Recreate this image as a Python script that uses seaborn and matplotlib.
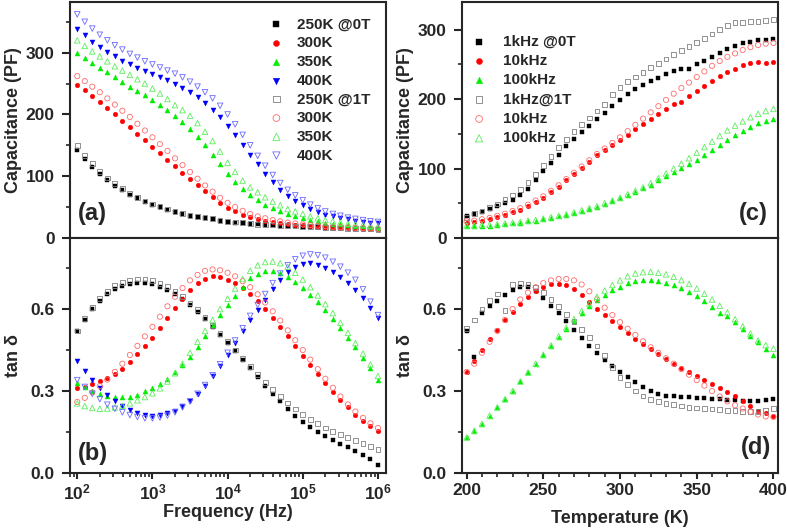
import numpy as np
import matplotlib
matplotlib.use("Agg")
import matplotlib.pyplot as plt
from matplotlib.ticker import MultipleLocator, FixedLocator, FuncFormatter, LogLocator, NullFormatter
import seaborn as sns

# ========= DATA =========
freq = 10 ** np.round(np.arange(2.0, 6.01, 0.1), 1)   # sample grid, Hz
temp = np.arange(200, 401, 5)                          # sample grid, K

# (a) capacitance vs frequency
cap_250_0T = [143, 128, 115, 104, 94, 85, 77, 70, 64, 59, 54, 50, 46, 42, 39, 36, 34, 32, 30, 28, 26,
              25, 24, 23, 22, 21, 20.5, 20, 19.5, 19, 18.5, 18, 17.5, 17, 16.5, 16, 15.5, 15, 14.5, 14, 14]
cap_300_0T = [248, 240, 230, 220, 210, 200, 190, 180, 169, 158, 148, 137, 127, 116, 106, 96, 86, 76, 66, 57, 49,
              43, 38, 34, 31, 28, 26, 24, 22.5, 21.5, 20.5, 19.5, 18.5, 18, 17, 16.5, 16, 15.5, 15, 14.5, 14]
cap_350_0T = [300, 292, 284, 276, 268, 260, 252, 245, 238, 231, 224, 216, 207, 198, 188, 177, 164, 150, 135, 119, 103,
              90, 79, 69, 61, 54, 48, 43, 39, 35, 32, 29, 27, 25, 23, 22, 21, 20, 19, 18, 17]
cap_400_0T = [338, 328, 318, 309, 301, 294, 287, 281, 275, 270, 265, 260, 255, 249, 243, 236, 228, 219, 208, 196, 182,
              167, 151, 135, 119, 104, 90, 78, 68, 60, 53, 47, 42, 38, 35, 32, 30, 28, 26, 25, 24]
cap_250_1T = [150, 134, 120, 108, 97, 88, 80, 72, 66, 60, 55, 51, 47, 43, 40, 37, 35, 33, 31, 29, 27,
              26, 24.5, 23.5, 22.5, 21.5, 21, 20.5, 20, 19.5, 19, 18.5, 18, 17.5, 17, 16.5, 16, 15.5, 15, 14.5, 14]
cap_300_1T = [262, 254, 245, 236, 226, 216, 206, 196, 185, 174, 163, 152, 141, 129, 118, 107, 96, 85, 75, 65, 57,
              50, 44, 39, 35, 32, 29, 27, 25, 23.5, 22, 21, 20, 19, 18, 17.5, 17, 16.5, 16, 15.5, 15]
cap_350_1T = [320, 311, 302, 294, 286, 278, 271, 264, 257, 250, 242, 234, 225, 215, 207, 198, 186, 172, 157, 140, 122,
              107, 93, 82, 74, 66, 59, 53, 47, 43, 39, 35, 32, 29, 27, 25, 23, 22, 21, 20, 19]
cap_400_1T = [362, 350, 339, 329, 320, 312, 305, 298, 292, 286, 281, 276, 271, 266, 260, 253, 245, 236, 226, 214, 200,
              184, 167, 150, 133, 117, 102, 89, 78, 69, 61, 54, 48, 43, 39, 36, 33, 31, 29, 27, 26]

# (b) tan delta vs frequency
tan_250_0T = [0.52, 0.56, 0.60, 0.63, 0.655, 0.672, 0.684, 0.692, 0.695, 0.694, 0.69, 0.682, 0.67, 0.655, 0.636, 0.614,
              0.59, 0.563, 0.535, 0.506, 0.476, 0.445, 0.415, 0.385, 0.352, 0.32, 0.29, 0.262, 0.235, 0.21, 0.187,
              0.167, 0.15, 0.135, 0.12, 0.107, 0.094, 0.081, 0.067, 0.05, 0.03]
tan_300_0T = [0.31, 0.315, 0.325, 0.335, 0.348, 0.362, 0.38, 0.405, 0.435, 0.465, 0.495, 0.53, 0.567, 0.603, 0.638, 0.67,
              0.694, 0.71, 0.72, 0.717, 0.708, 0.695, 0.678, 0.656, 0.63, 0.6, 0.568, 0.535, 0.5, 0.465, 0.43,
              0.397, 0.363, 0.33, 0.298, 0.268, 0.24, 0.214, 0.192, 0.172, 0.155]
tan_350_0T = [0.33, 0.315, 0.3, 0.29, 0.282, 0.278, 0.277, 0.278, 0.285, 0.3, 0.31, 0.325, 0.345, 0.37, 0.395, 0.425,
              0.46, 0.5, 0.54, 0.578, 0.614, 0.648, 0.68, 0.712, 0.73, 0.74, 0.74, 0.732, 0.718, 0.698, 0.678,
              0.653, 0.625, 0.595, 0.563, 0.53, 0.495, 0.46, 0.422, 0.383, 0.342]
tan_400_0T = [0.41, 0.375, 0.34, 0.31, 0.285, 0.265, 0.245, 0.23, 0.218, 0.212, 0.21, 0.212, 0.218, 0.228, 0.245, 0.265,
              0.29, 0.32, 0.355, 0.392, 0.432, 0.475, 0.518, 0.56, 0.598, 0.632, 0.672, 0.707, 0.735, 0.755, 0.765,
              0.767, 0.762, 0.752, 0.737, 0.718, 0.695, 0.67, 0.64, 0.605, 0.568]
tan_250_1T = [0.52, 0.565, 0.605, 0.64, 0.665, 0.685, 0.698, 0.706, 0.71, 0.71, 0.705, 0.695, 0.682, 0.665, 0.645, 0.622,
              0.597, 0.57, 0.541, 0.511, 0.481, 0.45, 0.42, 0.39, 0.36, 0.332, 0.305, 0.28, 0.256, 0.234, 0.214,
              0.196, 0.18, 0.165, 0.152, 0.14, 0.129, 0.118, 0.107, 0.096, 0.085]
tan_300_1T = [0.26, 0.275, 0.295, 0.318, 0.342, 0.37, 0.4, 0.432, 0.465, 0.5, 0.535, 0.572, 0.61, 0.645, 0.677, 0.705,
              0.725, 0.74, 0.745, 0.742, 0.733, 0.72, 0.702, 0.68, 0.654, 0.624, 0.592, 0.558, 0.522, 0.486, 0.45,
              0.415, 0.38, 0.345, 0.312, 0.28, 0.251, 0.225, 0.202, 0.182, 0.165]
tan_350_1T = [0.255, 0.245, 0.238, 0.235, 0.236, 0.24, 0.246, 0.255, 0.266, 0.278, 0.292, 0.31, 0.335, 0.365, 0.4, 0.44,
              0.48, 0.52, 0.56, 0.6, 0.638, 0.675, 0.71, 0.74, 0.76, 0.772, 0.774, 0.768, 0.755, 0.733, 0.708,
              0.68, 0.65, 0.618, 0.585, 0.55, 0.513, 0.475, 0.437, 0.397, 0.355]
tan_400_1T = [0.34, 0.315, 0.29, 0.27, 0.25, 0.235, 0.222, 0.212, 0.205, 0.2, 0.2, 0.203, 0.21, 0.222, 0.24, 0.262,
              0.29, 0.322, 0.358, 0.398, 0.44, 0.485, 0.53, 0.575, 0.615, 0.655, 0.695, 0.73, 0.76, 0.782, 0.795,
              0.8, 0.797, 0.788, 0.773, 0.755, 0.733, 0.707, 0.672, 0.627, 0.578]

# (c) capacitance vs temperature
capT_1k_0T = [32, 35, 38, 42, 46, 50, 55, 62, 71, 83, 96, 108, 120, 132, 143, 153, 162, 171, 180, 190, 199,
              207, 214, 220, 226, 231, 236, 241, 244, 243, 250, 255, 261, 267, 272, 277, 281, 283, 285, 285, 287]
capT_10k_0T = [22, 23, 25, 27, 30, 33, 37, 41, 46, 52, 58, 66, 74, 83, 92, 101, 110, 119, 127, 134, 141,
               149, 157, 164, 171, 178, 186, 193, 196, 205, 212, 219, 226, 233, 239, 244, 249, 252, 253, 252, 254]
capT_100k_0T = [17, 17, 18, 18, 19, 20, 21, 22, 24, 25, 27, 29, 31, 33, 36, 39, 42, 45, 49, 53, 57,
                62, 67, 72, 77, 83, 89, 95, 101, 107, 113, 120, 127, 134, 141, 148, 154, 160, 165, 168, 171]
capT_1k_1T = [30, 35, 39, 44, 49, 55, 62, 70, 80, 92, 105, 118, 130, 142, 153, 163, 173, 183, 192, 207, 217,
              225, 232, 239, 246, 252, 258, 264, 270, 276, 282, 288, 294, 300, 306, 310, 311, 312, 312, 313, 315]
capT_10k_1T = [24, 25, 27, 29, 32, 35, 39, 43, 48, 54, 60, 68, 76, 85, 94, 103, 112, 121, 129, 137, 145,
               154, 163, 172, 181, 190, 199, 208, 216, 224, 232, 240, 248, 255, 261, 266, 271, 275, 278, 280, 281]
capT_100k_1T = [18, 18, 19, 19, 20, 21, 22, 23, 25, 26, 28, 30, 32, 34, 37, 40, 43, 46, 50, 54, 58,
                63, 68, 73, 79, 86, 93, 100, 107, 115, 123, 131, 139, 147, 155, 162, 168, 174, 179, 183, 186]

# (d) tan delta vs temperature
tanT_1k_0T = [0.52, 0.425, 0.585, 0.61, 0.63, 0.65, 0.668, 0.68, 0.68, 0.665, 0.64, 0.612, 0.584, 0.555, 0.525, 0.495,
              0.466, 0.44, 0.415, 0.392, 0.37, 0.35, 0.332, 0.315, 0.3, 0.29, 0.283, 0.28, 0.278, 0.277, 0.276,
              0.274, 0.272, 0.27, 0.268, 0.266, 0.263, 0.262, 0.262, 0.268, 0.27]
tanT_10k_0T = [0.37, 0.41, 0.45, 0.49, 0.525, 0.56, 0.59, 0.62, 0.645, 0.665, 0.68, 0.69, 0.692, 0.688, 0.675, 0.652,
               0.625, 0.6, 0.578, 0.555, 0.533, 0.512, 0.492, 0.472, 0.453, 0.435, 0.418, 0.4, 0.385, 0.37, 0.355,
               0.34, 0.325, 0.31, 0.295, 0.28, 0.262, 0.245, 0.228, 0.218, 0.21]
tanT_100k_0T = [0.13, 0.155, 0.18, 0.21, 0.24, 0.27, 0.3, 0.335, 0.368, 0.4, 0.432, 0.465, 0.497, 0.528, 0.557, 0.585,
                0.61, 0.632, 0.652, 0.668, 0.682, 0.694, 0.702, 0.706, 0.706, 0.703, 0.697, 0.688, 0.677, 0.663, 0.647,
                0.628, 0.607, 0.584, 0.575, 0.552, 0.528, 0.503, 0.478, 0.455, 0.432]
tanT_1k_1T = [0.53, 0.56, 0.6, 0.63, 0.655, 0.595, 0.69, 0.695, 0.692, 0.68, 0.66, 0.635, 0.608, 0.58, 0.555, 0.525,
              0.495, 0.465, 0.43, 0.385, 0.35, 0.325, 0.3, 0.282, 0.27, 0.262, 0.255, 0.25, 0.245, 0.24, 0.238,
              0.236, 0.234, 0.232, 0.23, 0.228, 0.226, 0.224, 0.225, 0.23, 0.237]
tanT_10k_1T = [0.37, 0.4, 0.44, 0.48, 0.52, 0.56, 0.6, 0.635, 0.66, 0.68, 0.695, 0.705, 0.71, 0.71, 0.705, 0.69,
               0.665, 0.635, 0.605, 0.578, 0.552, 0.528, 0.505, 0.482, 0.46, 0.44, 0.42, 0.4, 0.38, 0.36, 0.34,
               0.32, 0.3, 0.28, 0.262, 0.248, 0.236, 0.224, 0.214, 0.207, 0.205]
tanT_100k_1T = [0.13, 0.155, 0.18, 0.21, 0.24, 0.27, 0.3, 0.335, 0.368, 0.4, 0.433, 0.467, 0.5, 0.532, 0.563, 0.593,
                0.62, 0.645, 0.668, 0.688, 0.705, 0.72, 0.73, 0.735, 0.736, 0.733, 0.727, 0.718, 0.706, 0.692, 0.675,
                0.656, 0.635, 0.612, 0.588, 0.563, 0.537, 0.51, 0.485, 0.468, 0.455]

labels_a = ["250K @0T", "300K", "350K", "400K", "250K @1T", "300K", "350K", "400K"]
labels_c = ["1kHz @0T", "10kHz", "100kHz", "1kHz@1T", "10kHz", "100kHz"]

# ========= STYLE =========
sns.set_style("ticks")
plt.rcParams["font.family"] = ["Liberation Sans", "DejaVu Sans"]
plt.rcParams["font.weight"] = "bold"
plt.rcParams["axes.labelweight"] = "bold"
plt.rcParams["mathtext.fontset"] = "custom"
plt.rcParams["mathtext.rm"] = "Liberation Sans:bold"
plt.rcParams["mathtext.bf"] = "Liberation Sans:bold"
plt.rcParams["mathtext.it"] = "Liberation Sans:bold:italic"

FILLED = ["#000000", "#ff0000", "#00ee00", "#0000ff"]
OPEN = ["#808080", "#ff6a6a", "#5cee5c", "#6a6aff"]
MARK = ["s", "o", "^", "v"]
SIZE_F = [8, 11, 13, 13]
SIZE_O = [12, 14, 16, 16]

fig = plt.figure(figsize=(7.87, 5.32), dpi=100)
L1, L2, W = 0.0889, 0.587, 0.4016
axA = fig.add_axes([L1, 0.5526, W, 0.4436])
axB = fig.add_axes([L1, 0.1109, W, 0.4417])
axC = fig.add_axes([L2, 0.5526, W, 0.4436])
axD = fig.add_axes([L2, 0.1109, W, 0.4417])


def draw(ax, x, filled, opened, labels):
    for i, y in enumerate(filled):
        sns.scatterplot(x=x, y=y, ax=ax, marker=MARK[i], s=SIZE_F[i], color=FILLED[i],
                        edgecolor=FILLED[i], linewidth=0.3, label=labels[i], zorder=2)
    for i, y in enumerate(opened):
        sns.scatterplot(x=x, y=y, ax=ax, marker=MARK[i], s=SIZE_O[i], facecolor="none",
                        edgecolor=OPEN[i], linewidth=0.6, label=labels[len(filled) + i], zorder=3)


draw(axA, freq, [cap_250_0T, cap_300_0T, cap_350_0T, cap_400_0T],
     [cap_250_1T, cap_300_1T, cap_350_1T, cap_400_1T], labels_a)
draw(axB, freq, [tan_250_0T, tan_300_0T, tan_350_0T, tan_400_0T],
     [tan_250_1T, tan_300_1T, tan_350_1T, tan_400_1T], labels_a)
draw(axC, temp, [capT_1k_0T, capT_10k_0T, capT_100k_0T],
     [capT_1k_1T, capT_10k_1T, capT_100k_1T], labels_c)
draw(axD, temp, [tanT_1k_0T, tanT_10k_0T, tanT_100k_0T],
     [tanT_1k_1T, tanT_10k_1T, tanT_100k_1T], labels_c)

# ========= AXES =========
for ax in (axA, axB):
    ax.set_xscale("log")
    ax.set_xlim(80, 1.28e6)
    ax.xaxis.set_major_locator(FixedLocator([1e2, 1e3, 1e4, 1e5, 1e6]))
    ax.xaxis.set_major_formatter(FuncFormatter(lambda v, p: r"$\mathrm{10^{%d}}$" % round(np.log10(v))))
    ax.xaxis.set_minor_locator(LogLocator(base=10, subs=np.arange(2, 10), numticks=20))
    ax.xaxis.set_minor_formatter(NullFormatter())
for ax in (axC, axD):
    ax.set_xlim(197, 403)
    ax.xaxis.set_major_locator(MultipleLocator(50))
    ax.xaxis.set_minor_locator(MultipleLocator(10))

for ax in (axA, axC):
    ax.yaxis.set_major_locator(MultipleLocator(100))
    ax.yaxis.set_minor_locator(MultipleLocator(50))
    ax.tick_params(axis="x", labelbottom=False)
    ax.set_ylabel("Capacitance (PF)", fontsize=13, labelpad=3)
axA.set_ylim(0, 382)
axC.set_ylim(0, 340)

for ax in (axB, axD):
    ax.set_ylim(0, 0.86)
    ax.yaxis.set_major_locator(MultipleLocator(0.3))
    ax.yaxis.set_minor_locator(MultipleLocator(0.15))
    ax.yaxis.set_major_formatter(FuncFormatter(lambda v, p: "%.1f" % v))
    ax.set_ylabel("tan δ", fontsize=13, labelpad=6)
axB.set_xlabel("Frequency (Hz)", fontsize=13, labelpad=1)
axD.set_xlabel("Temperature (K)", fontsize=13, labelpad=9)

for ax in (axA, axB, axC, axD):
    for s in ax.spines.values():
        s.set_linewidth(1.5)
        s.set_visible(True)
    ax.tick_params(axis="y", which="major", direction="out", length=6, width=1.5, pad=5, labelsize=12.5)
    ax.tick_params(axis="x", which="major", direction="out", length=4.5, width=1.5, pad=2.5, labelsize=12.5)
    ax.tick_params(which="minor", direction="out", length=3, width=1.2)
    for t in ax.get_xticklabels() + ax.get_yticklabels():
        t.set_fontweight("bold")
    ax.get_legend().remove()

axA.text(0.025, 0.105, "(a)", transform=axA.transAxes, fontsize=17, fontweight="bold", va="center")
axB.text(0.025, 0.085, "(b)", transform=axB.transAxes, fontsize=17, fontweight="bold", va="center")
axC.text(0.968, 0.106, "(c)", transform=axC.transAxes, fontsize=17, fontweight="bold", va="center", ha="right")
axD.text(0.978, 0.11, "(d)", transform=axD.transAxes, fontsize=17, fontweight="bold", va="center", ha="right")

axA.legend(loc="upper left", bbox_to_anchor=(0.629, 0.935), frameon=False, fontsize=11,
           handlelength=1.0, handletextpad=0.85, labelspacing=0.31, borderpad=0, borderaxespad=0,
           markerscale=1.3)
axC.legend(loc="upper left", bbox_to_anchor=(0.03, 0.862), frameon=False, fontsize=11,
           handlelength=1.0, handletextpad=1.05, labelspacing=0.35, borderpad=0, borderaxespad=0,
           markerscale=1.3)

fig.savefig("out.png", dpi=100)
